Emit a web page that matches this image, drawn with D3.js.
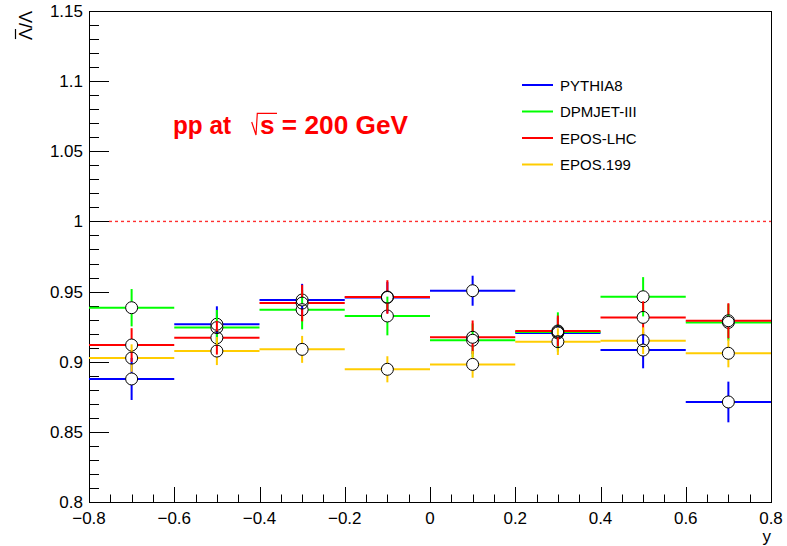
<!DOCTYPE html>
<html>
<head>
<meta charset="utf-8">
<script src="https://cdn.jsdelivr.net/npm/d3@7"></script>
<style>
  html, body { margin: 0; padding: 0; background: #fff; }
  svg { display: block; }
  text { font-family: "Liberation Sans", Arial, Helvetica, sans-serif; }
</style>
</head>
<body>
<svg id="chart" width="787" height="546"></svg>
<script>
// Rapidity bins (centres, half-width 0.1)
const binCenters = [-0.7, -0.5, -0.3, -0.1, 0.1, 0.3, 0.5, 0.7];
const binHalfWidth = 0.1;

// Anti-Lambda / Lambda ratio per generator
const pythia8   = [0.8877, 0.9267, 0.9440, 0.9458, 0.9506, 0.9205, 0.9083, 0.8713];
const pythia8Err = [0.0150, 0.0128, 0.0115, 0.0110, 0.0107, 0.0110, 0.0130, 0.0145];
const dpmjet    = [0.9385, 0.9243, 0.9371, 0.9326, 0.9153, 0.9212, 0.9463, 0.9280];
const dpmjetErr = [0.0133, 0.0126, 0.0140, 0.0138, 0.0120, 0.0140, 0.0140, 0.0130];
const eposLhc   = [0.9119, 0.9171, 0.9418, 0.9461, 0.9174, 0.9219, 0.9316, 0.9292];
const eposLhcErr = [0.0120, 0.0120, 0.0130, 0.0120, 0.0120, 0.0110, 0.0115, 0.0125];
const epos199   = [0.9026, 0.9076, 0.9088, 0.8946, 0.8981, 0.9143, 0.9150, 0.9060];
const epos199Err = [0.0098, 0.0100, 0.0096, 0.0093, 0.0095, 0.0095, 0.0095, 0.0100];

const seriesNames = ["PYTHIA8", "DPMJET-III", "EPOS-LHC", "EPOS.199"];
const seriesColors = ["#0000ff", "#00ff00", "#ff0000", "#ffcc00"];

const xTicks = [-0.8, -0.6, -0.4, -0.2, 0, 0.2, 0.4, 0.6, 0.8];
const yTicks = [0.8, 0.85, 0.9, 0.95, 1, 1.05, 1.1, 1.15];
const xDomain = [-0.8, 0.8];
const yDomain = [0.8, 1.15];

const series = [
  { name: seriesNames[0], color: seriesColors[0], values: pythia8, errors: pythia8Err },
  { name: seriesNames[1], color: seriesColors[1], values: dpmjet, errors: dpmjetErr },
  { name: seriesNames[2], color: seriesColors[2], values: eposLhc, errors: eposLhcErr },
  { name: seriesNames[3], color: seriesColors[3], values: epos199, errors: epos199Err }
];

const frame = { left: 89, right: 771, top: 11, bottom: 502 };
const svg = d3.select("#chart");

const x = d3.scaleLinear().domain(xDomain).range([frame.left, frame.right]);
const y = d3.scaleLinear().domain(yDomain).range([frame.bottom, frame.top]);
const crisp = v => Math.round(v) + 0.5;

const axisColor = "#000";
const labelSize = 17;

// Frame box
svg.append("rect")
  .attr("x", frame.left + 0.5).attr("y", frame.top + 0.5)
  .attr("width", frame.right - frame.left)
  .attr("height", frame.bottom - frame.top)
  .attr("fill", "none").attr("stroke", axisColor).attr("stroke-width", 1);

// X axis: major ticks every 0.2, minor every 0.05
const xMinor = d3.range(-0.8, 0.8001, 0.05).map(v => +v.toFixed(3));
const xAxisG = svg.append("g");
xAxisG.selectAll("line.minor").data(xMinor).join("line")
  .attr("x1", d => crisp(x(d))).attr("x2", d => crisp(x(d)))
  .attr("y1", frame.bottom).attr("y2", frame.bottom - 7.5)
  .attr("stroke", axisColor);
xAxisG.selectAll("line.major").data(xTicks).join("line")
  .attr("x1", d => crisp(x(d))).attr("x2", d => crisp(x(d)))
  .attr("y1", frame.bottom).attr("y2", frame.bottom - 15)
  .attr("stroke", axisColor);
xAxisG.selectAll("text").data(xTicks).join("text")
  .attr("x", d => x(d)).attr("y", frame.bottom + 22)
  .attr("text-anchor", "middle")
  .attr("font-size", labelSize)
  .text(d => d === 0 ? "0" : (d < 0 ? "\u2212" : "") + Math.abs(d).toString());

// Y axis: major ticks every 0.05, minor every 0.01
const yMinor = d3.range(0.8, 1.1501, 0.01).map(v => +v.toFixed(3));
const yAxisG = svg.append("g");
yAxisG.selectAll("line.minor").data(yMinor).join("line")
  .attr("x1", frame.left).attr("x2", frame.left + 10)
  .attr("y1", d => crisp(y(d))).attr("y2", d => crisp(y(d)))
  .attr("stroke", axisColor);
yAxisG.selectAll("line.major").data(yTicks).join("line")
  .attr("x1", frame.left).attr("x2", frame.left + 20)
  .attr("y1", d => crisp(y(d))).attr("y2", d => crisp(y(d)))
  .attr("stroke", axisColor);
yAxisG.selectAll("text").data(yTicks).join("text")
  .attr("x", frame.left - 6).attr("y", d => y(d) + 6)
  .attr("text-anchor", "end")
  .attr("font-size", labelSize)
  .text(d => String(+d.toFixed(2)));

// Axis titles
svg.append("text")
  .attr("x", frame.right).attr("y", frame.bottom + 40)
  .attr("text-anchor", "end").attr("font-size", labelSize)
  .text("y");

const yTitle = svg.append("g").attr("transform", `translate(32, ${frame.top}) rotate(-90)`);
const yTitleText = yTitle.append("text")
  .attr("x", 0).attr("y", 0)
  .attr("text-anchor", "end").attr("font-size", 18);
yTitleText.append("tspan").attr("class", "bar").text("\u039B");
yTitleText.append("tspan").text("/\u039B");
// overline on the first Lambda
{
  const full = yTitleText.node().getComputedTextLength();
  const lam = yTitleText.select("tspan.bar").node().getComputedTextLength();
  yTitle.append("line")
    .attr("x1", -full + 1).attr("x2", -full + lam - 1)
    .attr("y1", -16.5).attr("y2", -16.5)
    .attr("stroke", "#000").attr("stroke-width", 1.2);
}

// Reference line at unity, drawn as short red dashes
const unityY = y(1);
const dashStarts = d3.range(frame.left + 20, frame.right - 1, 6);
svg.append("g").selectAll("rect").data(dashStarts).join("rect")
  .attr("x", d => d).attr("y", unityY - 0.7)
  .attr("width", d => Math.min(3, frame.right - d)).attr("height", 1.4)
  .attr("fill", "#ff3030");

// Data: horizontal bin-width bars, vertical error bars, open circle markers
const markerR = 6;
const dataG = svg.append("g");
series.forEach(s => {
  const g = dataG.append("g");
  const pts = binCenters.map((c, i) => ({ c, v: s.values[i], e: s.errors[i] }));
  pts.forEach(p => {
    const cx = x(p.c), cy = y(p.v);
    const segs = [
      [x(p.c - binHalfWidth), cy, cx - markerR, cy],
      [cx + markerR, cy, x(p.c + binHalfWidth), cy],
      [cx, y(p.v + p.e), cx, cy - markerR],
      [cx, cy + markerR, cx, y(p.v - p.e)]
    ];
    segs.forEach(sg => {
      g.append("line")
        .attr("x1", sg[0]).attr("y1", sg[1]).attr("x2", sg[2]).attr("y2", sg[3])
        .attr("stroke", s.color).attr("stroke-width", 2);
    });
  });
  g.selectAll("circle").data(pts).join("circle")
    .attr("cx", d => x(d.c)).attr("cy", d => y(d.v))
    .attr("r", markerR)
    .attr("fill", "none").attr("stroke", "#000").attr("stroke-width", 1);
});

// Legend
const legend = svg.append("g");
series.forEach((s, i) => {
  const ly = 85 + i * 26.5;
  legend.append("line")
    .attr("x1", 522).attr("x2", 553).attr("y1", ly).attr("y2", ly)
    .attr("stroke", s.color).attr("stroke-width", 2);
  legend.append("text")
    .attr("x", 560).attr("y", ly + 5.5)
    .attr("font-size", 15)
    .text(s.name);
});

// Collision system label
const title = svg.append("g").attr("fill", "#ff0000");
title.append("text")
  .attr("x", 173).attr("y", 134)
  .attr("font-size", 25.5).attr("font-weight", "bold")
  .attr("textLength", 58).attr("lengthAdjust", "spacingAndGlyphs")
  .text("pp at");
title.append("path")
  .attr("d", "M251.7,122 L256,135 L257.3,113.3 L277,113.3")
  .attr("fill", "none").attr("stroke", "#ff0000").attr("stroke-width", 1.2);
title.append("text")
  .attr("x", 260).attr("y", 134)
  .attr("font-size", 25.5).attr("font-weight", "bold")
  .attr("textLength", 148).attr("lengthAdjust", "spacingAndGlyphs")
  .text("s = 200 GeV");
</script>
</body>
</html>
